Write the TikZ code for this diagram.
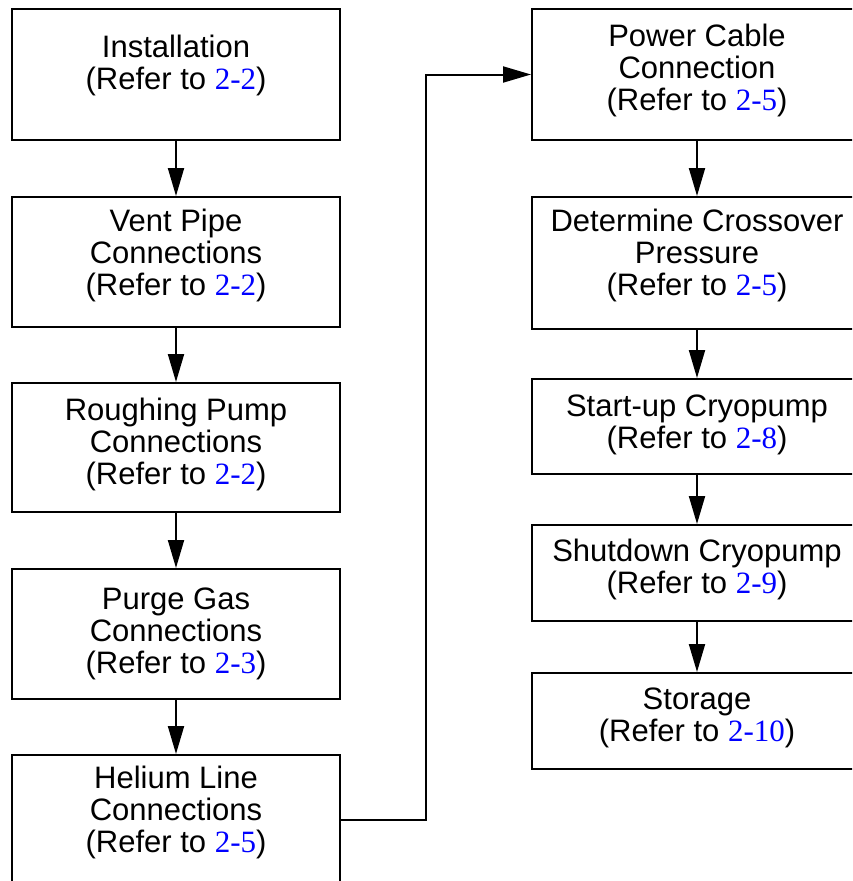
\documentclass[tikz,border=0pt]{standalone}
\usepackage{fontspec}
\setmainfont{Liberation Sans}
\newfontfamily\serifnum{Liberation Serif}
\usetikzlibrary{arrows.meta}
\definecolor{refblue}{RGB}{0,0,255}
\newcommand{\refno}[1]{{\serifnum\color{refblue}#1}}
\tikzset{
  stepbox/.style={draw,line width=2pt,minimum width=328pt,inner sep=0pt},
  steptext/.style={align=center,inner sep=0pt,font=\fontsize{31}{32}\selectfont},
  flow/.style={line width=2pt,-{Stealth[length=28pt,width=16pt,inset=0pt]}}
}
\begin{document}
\begin{tikzpicture}[x=1pt,y=-1pt]
\useasboundingbox (0,0) rectangle (852,881);
\clip (0,0) rectangle (852,881);
\node[stepbox,minimum height=131pt](install) at (176,74.5) {};
\node[stepbox,minimum height=130pt](vent) at (176,262) {};
\node[stepbox,minimum height=129pt](rough) at (176,447.5) {};
\node[stepbox,minimum height=130pt](purge) at (176,634) {};
\node[stepbox,minimum height=130pt](helium) at (176,820) {};
\node[stepbox,minimum width=330pt,minimum height=131pt](power) at (697,74.5) {};
\node[stepbox,minimum width=330pt,minimum height=132pt](xover) at (697,263) {};
\node[stepbox,minimum width=330pt,minimum height=95pt](startup) at (697,426.5) {};
\node[stepbox,minimum width=330pt,minimum height=96pt](shutdown) at (697,573) {};
\node[stepbox,minimum width=330pt,minimum height=96pt](storage) at (697,721) {};
\node[steptext](install-t) at (176,65) {Installation\\(Refer to \refno{2-2})};
\node[steptext](vent-t) at (176,255.7) {Vent Pipe\\Connections\\(Refer to \refno{2-2})};
\node[steptext](rough-t) at (176,444) {Roughing Pump\\Connections\\(Refer to \refno{2-2})};
\node[steptext](purge-t) at (176,634) {Purge Gas\\Connections\\(Refer to \refno{2-3})};
\node[steptext](helium-t) at (176,812) {Helium Line\\Connections\\(Refer to \refno{2-5})};
\node[steptext](power-t) at (697,70.7) {Power Cable\\Connection\\(Refer to \refno{2-5})};
\node[steptext](xover-t) at (697,255.7) {Determine Crossover\\Pressure\\(Refer to \refno{2-5})};
\node[steptext](startup-t) at (697,424.7) {Start-up Cryopump\\(Refer to \refno{2-8})};
\node[steptext](shutdown-t) at (697,569.7) {Shutdown Cryopump\\(Refer to \refno{2-9})};
\node[steptext](storage-t) at (697,718) {Storage\\(Refer to \refno{2-10})};
\coordinate(jog) at (426,440);
\draw[flow](install)--(vent);
\draw[flow](vent)--(rough);
\draw[flow](rough)--(purge);
\draw[flow](purge)--(helium);
\draw[flow](helium.east)--(helium.east -| jog)--(power.west -| jog)--(power.west);
\draw[flow](power)--(xover);
\draw[flow](xover)--(startup);
\draw[flow](startup)--(shutdown);
\draw[flow](shutdown)--(storage);
\end{tikzpicture}
\end{document}
